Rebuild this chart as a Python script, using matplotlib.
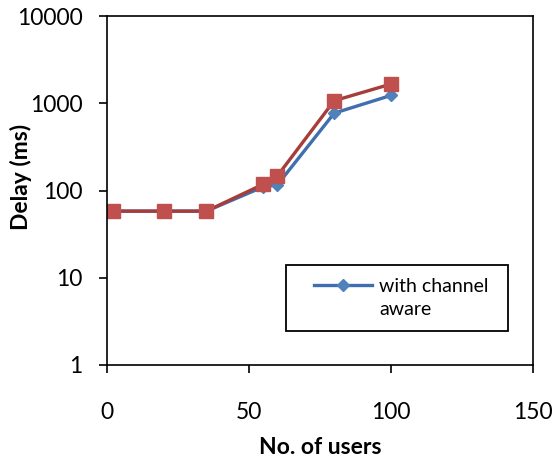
import matplotlib.pyplot as plt
from matplotlib.lines import Line2D
from matplotlib.patches import Rectangle

# data
users = [2, 20, 35, 55, 60, 80, 100]
delay_aware = [58, 58, 58, 110, 116, 770, 1230]
delay_other = [58, 58, 58, 118, 147, 1070, 1660]

plt.rcParams['font.family'] = ['Lato', 'DejaVu Sans']

fig = plt.figure(figsize=(5.57, 4.63), dpi=100)
ax = fig.add_axes([0.192, 0.2117, 0.765, 0.7537])

ax.plot(users, delay_other, color="#A63D3A", linewidth=2.4, marker="s",
        markersize=10, markerfacecolor="#C0504D", markeredgecolor="#C0504D",
        zorder=2)
ax.plot(users, delay_aware, color="#3F6FAE", linewidth=2.4, marker="D",
        markersize=6.5, markerfacecolor="#4F81BD", markeredgecolor="#4F81BD",
        zorder=1)

ax.set_yscale("log")
ax.set_ylim(1, 10000)
ax.set_xlim(0, 150)
ax.set_xticks([0, 50, 100, 150])
ax.set_yticks([1, 10, 100, 1000, 10000])
ax.set_yticklabels(["1", "10", "100", "1000", "10000"])
ax.minorticks_off()
ax.tick_params(axis="both", direction="out", length=5.5, width=1.2,
               labelsize=16.5, colors="black")
ax.tick_params(axis="x", pad=21)
ax.tick_params(axis="y", pad=12)
for s in ax.spines.values():
    s.set_linewidth(1.2)

ax.set_xlabel("No. of users", fontsize=16.5, fontweight="bold", labelpad=10)
ax.set_ylabel("Delay (ms)", fontsize=16.5, fontweight="bold")
ax.yaxis.set_label_coords(-0.176, 0.54)

# legend box (only the blue entry is visible, label wraps)
box = Rectangle((0.42, 0.097), 0.521, 0.19, transform=ax.transAxes,
                facecolor="white", edgecolor="black", linewidth=1.3, zorder=4)
ax.add_patch(box)
h1 = Line2D([], [], color="#3F6FAE", linewidth=2.4, marker="D", markersize=6.5,
            markerfacecolor="#4F81BD", markeredgecolor="#4F81BD")
h2 = Line2D([], [], color="none")
leg = ax.legend([h1, h2], ["with channel", "aware"], loc="center",
                bbox_to_anchor=(0.42 + 0.2605 + 0.01, 0.097 + 0.095),
                fontsize=14, frameon=False, borderaxespad=0,
                handlelength=3.0, handletextpad=0.35, labelspacing=0.3,
                borderpad=0)
leg.set_zorder(5)

plt.savefig("out.png", dpi=100)
